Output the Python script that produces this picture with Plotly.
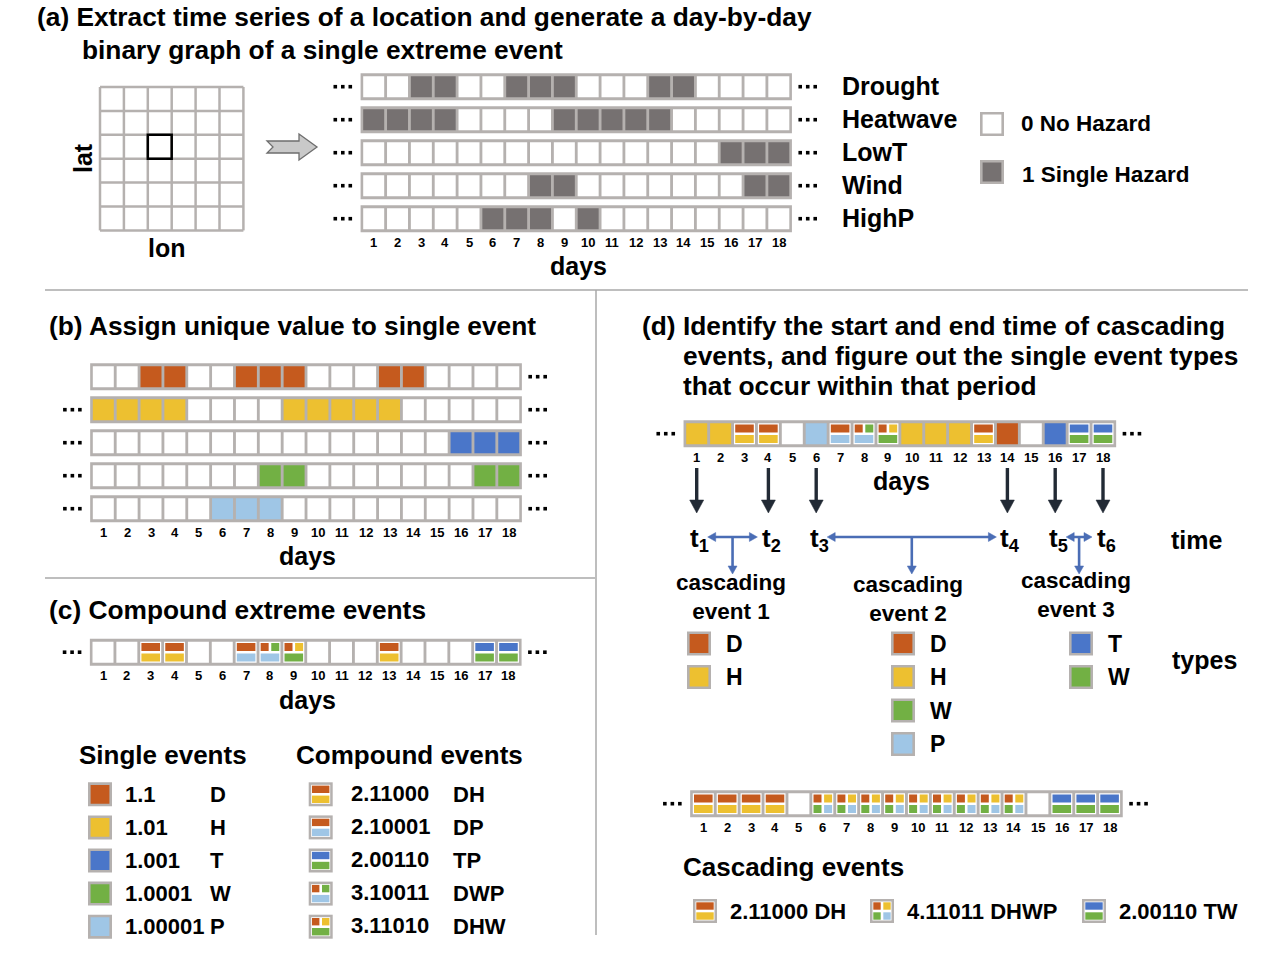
import plotly.graph_objects as go

W, H = 1284, 958

# ---------------- data ----------------
DAYS = list(range(1, 19))
HAZARD_LABELS = ["Drought", "Heatwave", "LowT", "Wind", "HighP"]

# (a) binary day-by-day series (1 = single hazard)
A_DROUGHT = [0, 0, 1, 1, 0, 0, 1, 1, 1, 0, 0, 0, 1, 1, 0, 0, 0, 0]
A_HEATWAVE = [1, 1, 1, 1, 0, 0, 0, 0, 1, 1, 1, 1, 1, 0, 0, 0, 0, 0]
A_LOWT = [0, 0, 0, 0, 0, 0, 0, 0, 0, 0, 0, 0, 0, 0, 0, 1, 1, 1]
A_WIND = [0, 0, 0, 0, 0, 0, 0, 1, 1, 0, 0, 0, 0, 0, 0, 0, 1, 1]
A_HIGHP = [0, 0, 0, 0, 0, 1, 1, 1, 0, 1, 0, 0, 0, 0, 0, 0, 0, 0]

# (b) single events with unique value
B_D = [0, 0, 1, 1, 0, 0, 1, 1, 1, 0, 0, 0, 1, 1, 0, 0, 0, 0]
B_H = [1, 1, 1, 1, 0, 0, 0, 0, 1, 1, 1, 1, 1, 0, 0, 0, 0, 0]
B_T = [0, 0, 0, 0, 0, 0, 0, 0, 0, 0, 0, 0, 0, 0, 0, 1, 1, 1]
B_W = [0, 0, 0, 0, 0, 0, 0, 1, 1, 0, 0, 0, 0, 0, 0, 0, 1, 1]
B_P = [0, 0, 0, 0, 0, 1, 1, 1, 0, 0, 0, 0, 0, 0, 0, 0, 0, 0]
B_CODES = ["D", "H", "T", "W", "P"]

# (c) compound extreme events per day
C_CODES = ["", "", "DH", "DH", "", "", "DP", "DWP", "DHW", "", "", "", "DH", "", "", "", "TW", "TW"]

# (d) combined series and cascading events
D_CODES = ["H", "H", "DH", "DH", "", "P", "DP", "DWP", "DHW", "H", "H", "H", "DH", "D", "", "T", "TW", "TW"]
CASCADE_CODES = ["DH", "DH", "DH", "DH", "", "DHWP", "DHWP", "DHWP", "DHWP", "DHWP", "DHWP",
                 "DHWP", "DHWP", "DHWP", "", "TW", "TW", "TW"]
CASCADE_TIMES = [1, 4, 6, 14, 16, 18]
CASCADE_TYPES = [["D", "H"], ["D", "H", "W", "P"], ["T", "W"]]

SINGLE_VALUES = ["1.1", "1.01", "1.001", "1.0001", "1.00001"]
SINGLE_NAMES = ["D", "H", "T", "W", "P"]
COMPOUND_VALUES = ["2.11000", "2.10001", "2.00110", "3.10011", "3.11010"]
COMPOUND_NAMES = ["DH", "DP", "TP", "DWP", "DHW"]
COMPOUND_SWATCH = ["DH", "DP", "TW", "DWP", "DHW"]
CASC_VALUES = ["2.11000", "4.11011", "2.00110"]
CASC_NAMES = ["DH", "DHWP", "TW"]
CASC_SWATCH = ["DH", "DHWP", "TW"]

# ---------------- style ----------------
FONT = "Liberation Sans, Arial, Helvetica, sans-serif"
COLORS = {"D": "#C55A1E", "H": "#EDC030", "T": "#4A76C9", "W": "#72B044",
          "P": "#9FC6E6", "X": "#767171", "0": "white"}
FRAME = "#B5B1AF"
SEP = "#A8A8A8"
BLUE = "#4A6DB5"
BLACK_ARROW = "#222A35"
EXT = 1.6  # extra day-units on each side of a strip axis (room for the ellipsis dots)

shapes, annotations, traces = [], [], []
axes = {}


def px(x):
    return x / W


def py(y):
    return 1 - y / H


def text(x, y, s, size, anchor="left", **kw):
    annotations.append(dict(x=px(x), y=py(y), xref="paper", yref="paper", text="<b>" + s + "</b>",
                            showarrow=False, xanchor=anchor, yanchor="middle",
                            font=dict(family=FONT, size=size, color="black"), **kw))


def prect(x0, y0, x1, y1, fill, line=None, lw=0):
    shapes.append(dict(type="rect", xref="paper", yref="paper", x0=px(x0), x1=px(x1),
                       y0=py(y1), y1=py(y0), fillcolor=fill, layer="above",
                       line=dict(color=line or fill, width=lw)))


def pline(x0, y0, x1, y1, color, w):
    shapes.append(dict(type="line", xref="paper", yref="paper", x0=px(x0), x1=px(x1),
                       y0=py(y0), y1=py(y1), line=dict(color=color, width=w), layer="above"))


def sub_rects(code, half, m=1.2, g=2.6):
    n = len(code)
    if n == 0:
        return []
    if n == 1:
        return [(-half, half, -half, half, code[0])]
    b = (2 * half - 2 * m - g) / 2
    t0, t1 = -half + m, -half + m + b
    u0, u1 = half - m - b, half - m
    l0, l1 = -half + m, -half + m + b
    r0, r1 = half - m - b, half - m
    f0, f1 = -half + m, half - m
    if n == 2:
        return [(f0, f1, t0, t1, code[0]), (f0, f1, u0, u1, code[1])]
    if n == 3:
        return [(l0, l1, t0, t1, code[0]), (r0, r1, t0, t1, code[1]), (f0, f1, u0, u1, code[2])]
    return [(l0, l1, t0, t1, code[0]), (r0, r1, t0, t1, code[1]),
            (l0, l1, u0, u1, code[2]), (r0, r1, u0, u1, code[3])]


strip_no = [0]


def make_strip(c1, pitch, first_center, nrows, rp=33.0):
    strip_no[0] += 1
    k = strip_no[0]
    sfx = "" if k == 1 else str(k)
    left = c1 - pitch / 2 - EXT * pitch
    right = c1 - pitch / 2 + (18 + EXT) * pitch
    top = first_center - rp / 2
    bottom = top + nrows * rp
    axes["xaxis" + sfx] = dict(domain=[px(left), px(right)], range=[0.5 - EXT, 18.5 + EXT], visible=False,
                               anchor="y" + sfx, fixedrange=True)
    axes["yaxis" + sfx] = dict(domain=[py(bottom), py(top)], range=[nrows + 0.5, 0.5], visible=False,
                               anchor="x" + sfx, fixedrange=True)
    traces.append(go.Scatter(x=DAYS * nrows, y=[r for r in range(1, nrows + 1) for _ in DAYS],
                             xaxis="x" + sfx, yaxis="y" + sfx, mode="markers",
                             marker=dict(opacity=0), hoverinfo="skip", showlegend=False))
    return dict(xr="x" + sfx, yr="y" + sfx, p=pitch, rp=rp, n=nrows, first=first_center)


def drect(s, x0, x1, y0, y1, fill):
    shapes.append(dict(type="rect", xref=s["xr"], yref=s["yr"], x0=x0, x1=x1, y0=y0, y1=y1,
                       fillcolor=fill, line=dict(width=0), layer="above"))


def draw_row(s, r, codes, left_dots=True):
    p, rp = s["p"], s["rp"]
    drect(s, 0.5 - 1.2 / p, 18.5 + 1.2 / p, r - 13.5 / rp, r + 13.5 / rp, FRAME)
    for d, code in zip(DAYS, codes):
        if len(code) != 1:
            drect(s, d - 10.5 / p, d + 10.5 / p, r - 10.5 / rp, r + 10.5 / rp, "white")
        for (a0, a1, b0, b1, c) in sub_rects(code, 10.5):
            drect(s, d + a0 / p, d + a1 / p, r + b0 / rp, r + b1 / rp, COLORS[c])
    # ellipsis dots on either side of the row
    xs, ys = [], []
    for off in (-7.5, 0, 7.5):
        if left_dots:
            xs.append(0.5 - (19 + off) / p)
            ys.append(r)
        xs.append(18.5 + (17 + off) / p)
        ys.append(r)
    traces.append(go.Scatter(x=xs, y=ys, xaxis=s["xr"], yaxis=s["yr"], mode="markers",
                             marker=dict(symbol="square", size=3.6, color="black", line=dict(width=0)),
                             cliponaxis=False, hoverinfo="skip", showlegend=False))


def day_labels(s, size=13):
    ylab = s["first"] + (s["n"] - 1) * s["rp"] + 23.5
    for d in DAYS:
        annotations.append(dict(x=d, y=py(ylab), xref=s["xr"], yref="paper", text="<b>%d</b>" % d,
                                showarrow=False, xanchor="center", yanchor="middle",
                                font=dict(family=FONT, size=size, color="black")))


def swatch(cx, cy, code, half=12.0):
    if len(code) == 1:
        prect(cx - half + 1.3, cy - half + 1.3, cx + half - 1.3, cy + half - 1.3,
              COLORS[code], FRAME, 2.6)
        return
    prect(cx - half, cy - half, cx + half, cy + half, FRAME)
    prect(cx - half + 2.5, cy - half + 2.5, cx + half - 2.5, cy + half - 2.5, "white")
    for (a0, a1, b0, b1, c) in sub_rects(code, half - 2.5, m=0.8, g=2.6):
        prect(cx + a0, cy + b0, cx + a1, cy + b1, COLORS[c])


def tri(pts):
    return "M " + " L ".join("%.6f,%.6f" % pt for pt in pts) + " Z"


def varrow(s, xd, ytail, yhead, color, w, hl, hw):
    p = s["p"]
    shapes.append(dict(type="line", xref=s["xr"], yref="paper", x0=xd, x1=xd, y0=py(ytail),
                       y1=py(yhead - hl + 1), line=dict(color=color, width=w), layer="above"))
    pts = [(xd - hw / 2 / p, py(yhead - hl)), (xd + hw / 2 / p, py(yhead - hl)), (xd, py(yhead))]
    shapes.append(dict(type="path", xref=s["xr"], yref="paper", path=tri(pts),
                       fillcolor=color, line=dict(color=color, width=0.5), layer="above"))


def harrow2(s, xd0, xd1, y, color, w, hl, hw):
    p = s["p"]
    shapes.append(dict(type="line", xref=s["xr"], yref="paper", x0=xd0 + (hl - 1) / p,
                       x1=xd1 - (hl - 1) / p, y0=py(y), y1=py(y),
                       line=dict(color=color, width=w), layer="above"))
    for tip, sgn in ((xd0, 1), (xd1, -1)):
        pts = [(tip, py(y)), (tip + sgn * hl / p, py(y - hw / 2)), (tip + sgn * hl / p, py(y + hw / 2))]
        shapes.append(dict(type="path", xref=s["xr"], yref="paper", path=tri(pts),
                           fillcolor=color, line=dict(color=color, width=0.5), layer="above"))


# ---------------- panel (a) ----------------
text(35, 17, "(a) Extract time series of a location and generate a day-by-day", 26.3)
text(80, 50, "binary graph of a single extreme event", 26.3)

GRID_N = 6
SEL = (2, 2)
g0x, g0y, gs = 100.0, 87.0, 23.9
for i in range(GRID_N + 1):
    pline(g0x + i * gs, g0y, g0x + i * gs, g0y + GRID_N * gs, FRAME, 2.5)
    pline(g0x, g0y + i * gs, g0x + GRID_N * gs, g0y + i * gs, FRAME, 2.5)
shapes.append(dict(type="rect", xref="paper", yref="paper",
                   x0=px(g0x + SEL[1] * gs), x1=px(g0x + (SEL[1] + 1) * gs),
                   y0=py(g0y + (SEL[0] + 1) * gs), y1=py(g0y + SEL[0] * gs),
                   line=dict(color="black", width=2.5), fillcolor="rgba(0,0,0,0)", layer="above"))
text(83, 158, "lat", 25, anchor="center", textangle=-90)
text(167, 248, "lon", 25, anchor="center")

arrow_pts = [(267, 141), (299, 141), (299, 134), (317, 147), (299, 160), (299, 153), (267, 153), (273, 147)]
shapes.append(dict(type="path", xref="paper", yref="paper",
                   path=tri([(px(x), py(y)) for x, y in arrow_pts]), fillcolor="#C9C9C9",
                   line=dict(color="#6E6E6E", width=1.3), layer="above"))

SA = make_strip(373.7, 23.83, 86.7, 5)
for r, series in enumerate([A_DROUGHT, A_HEATWAVE, A_LOWT, A_WIND, A_HIGHP], start=1):
    draw_row(SA, r, ["X" if v else "" for v in series])
day_labels(SA)
for r, lab in enumerate(HAZARD_LABELS):
    text(840, 86.7 + r * 33 - 1, lab, 25)
text(578, 266, "days", 25, anchor="center")

swatch(992, 124, "0")
swatch(992, 172, "X")
text(1019, 124, "0 No Hazard", 22.5)
text(1020, 174, "1 Single Hazard", 22.5)

# ---------------- separators ----------------
pline(45, 290, 1248, 290, SEP, 1.5)
pline(596, 290, 596, 935, SEP, 1.5)
pline(45, 578, 595, 578, SEP, 1.5)

# ---------------- panel (b) ----------------
text(47, 326, "(b) Assign unique value to single event", 26.3)
SB = make_strip(103.3, 23.85, 376.7, 5)
for r, (series, code) in enumerate(zip([B_D, B_H, B_T, B_W, B_P], B_CODES), start=1):
    draw_row(SB, r, [code if v else "" for v in series], left_dots=(r != 1))
day_labels(SB)
text(307, 556, "days", 25, anchor="center")

# ---------------- panel (c) ----------------
text(47, 610, "(c) Compound extreme events", 26.3)
SC = make_strip(103.0, 23.85, 652.2, 1)
draw_row(SC, 1, C_CODES)
day_labels(SC)
text(307, 700, "days", 25, anchor="center")

text(77, 755, "Single events", 26)
text(294, 755, "Compound events", 26)
for i in range(5):
    yy = 794.3 + i * 33.1
    swatch(100, yy, SINGLE_NAMES[i])
    text(123, yy, SINGLE_VALUES[i], 22)
    text(208, yy, SINGLE_NAMES[i], 22)
    swatch(320.7, yy, COMPOUND_SWATCH[i])
    text(349, yy - 1, COMPOUND_VALUES[i], 22)
    text(451, yy, COMPOUND_NAMES[i], 22)

# ---------------- panel (d) ----------------
text(640, 326, "(d) Identify the start and end time of cascading", 26.3)
text(681, 356, "events, and figure out the single event types", 26.3)
text(681, 386, "that occur within that period", 26.3)

SD1 = make_strip(696.7, 23.9, 433.7, 1)
draw_row(SD1, 1, D_CODES)
day_labels(SD1)
text(901, 481, "days", 25, anchor="center")

for t in CASCADE_TIMES:
    varrow(SD1, t, 468, 513, BLACK_ARROW, 3.4, 13, 14)
for i, t in enumerate(CASCADE_TIMES):
    annotations.append(dict(x=t, y=py(539), xref=SD1["xr"], yref="paper",
                            text="<b>t<sub>%d</sub></b>" % (i + 1), showarrow=False,
                            xanchor="center", yanchor="middle", xshift=3,
                            font=dict(family=FONT, size=26, color="black")))
p1 = SD1["p"]
for k in range(3):
    ts, te = CASCADE_TIMES[2 * k], CASCADE_TIMES[2 * k + 1]
    harrow2(SD1, ts + 11 / p1, te - 11 / p1, 537, BLUE, 2.6, 8, 9)
    varrow(SD1, (ts + te) / 2, 537, 574, BLUE, 2.6, 8, 9)

text(1197, 540, "time", 25, anchor="center")
text(1204, 660, "types", 25, anchor="center")

ev_label_pos = [(731, 597), (908, 599), (1076, 595)]
ev_swatch_x = [699, 903, 1081]
for k in range(3):
    text(ev_label_pos[k][0], ev_label_pos[k][1], "cascading<br>event %d" % (k + 1), 22.5, anchor="center")
    for j, h in enumerate(CASCADE_TYPES[k]):
        yy = 643.5 + j * 33.5
        swatch(ev_swatch_x[k], yy, h)
        text(ev_swatch_x[k] + 25, yy, h, 23)

SD2 = make_strip(703.3, 23.9, 803.7, 1)
draw_row(SD2, 1, CASCADE_CODES)
day_labels(SD2)

text(681, 867, "Cascading events", 26)
casc_sw_x = [705, 882, 1094]
for k in range(3):
    swatch(casc_sw_x[k], 911, CASC_SWATCH[k])
    text(casc_sw_x[k] + 23, 911, CASC_VALUES[k] + " " + CASC_NAMES[k], 22)

fig = go.Figure(data=traces)
fig.update_layout(width=W, height=H, margin=dict(l=0, r=0, t=0, b=0),
                  paper_bgcolor="white", plot_bgcolor="rgba(0,0,0,0)", showlegend=False,
                  shapes=shapes, annotations=annotations, **axes)
fig.write_html("out.html", config={"displayModeBar": False},
               post_script="document.body.style.margin='0px';")
